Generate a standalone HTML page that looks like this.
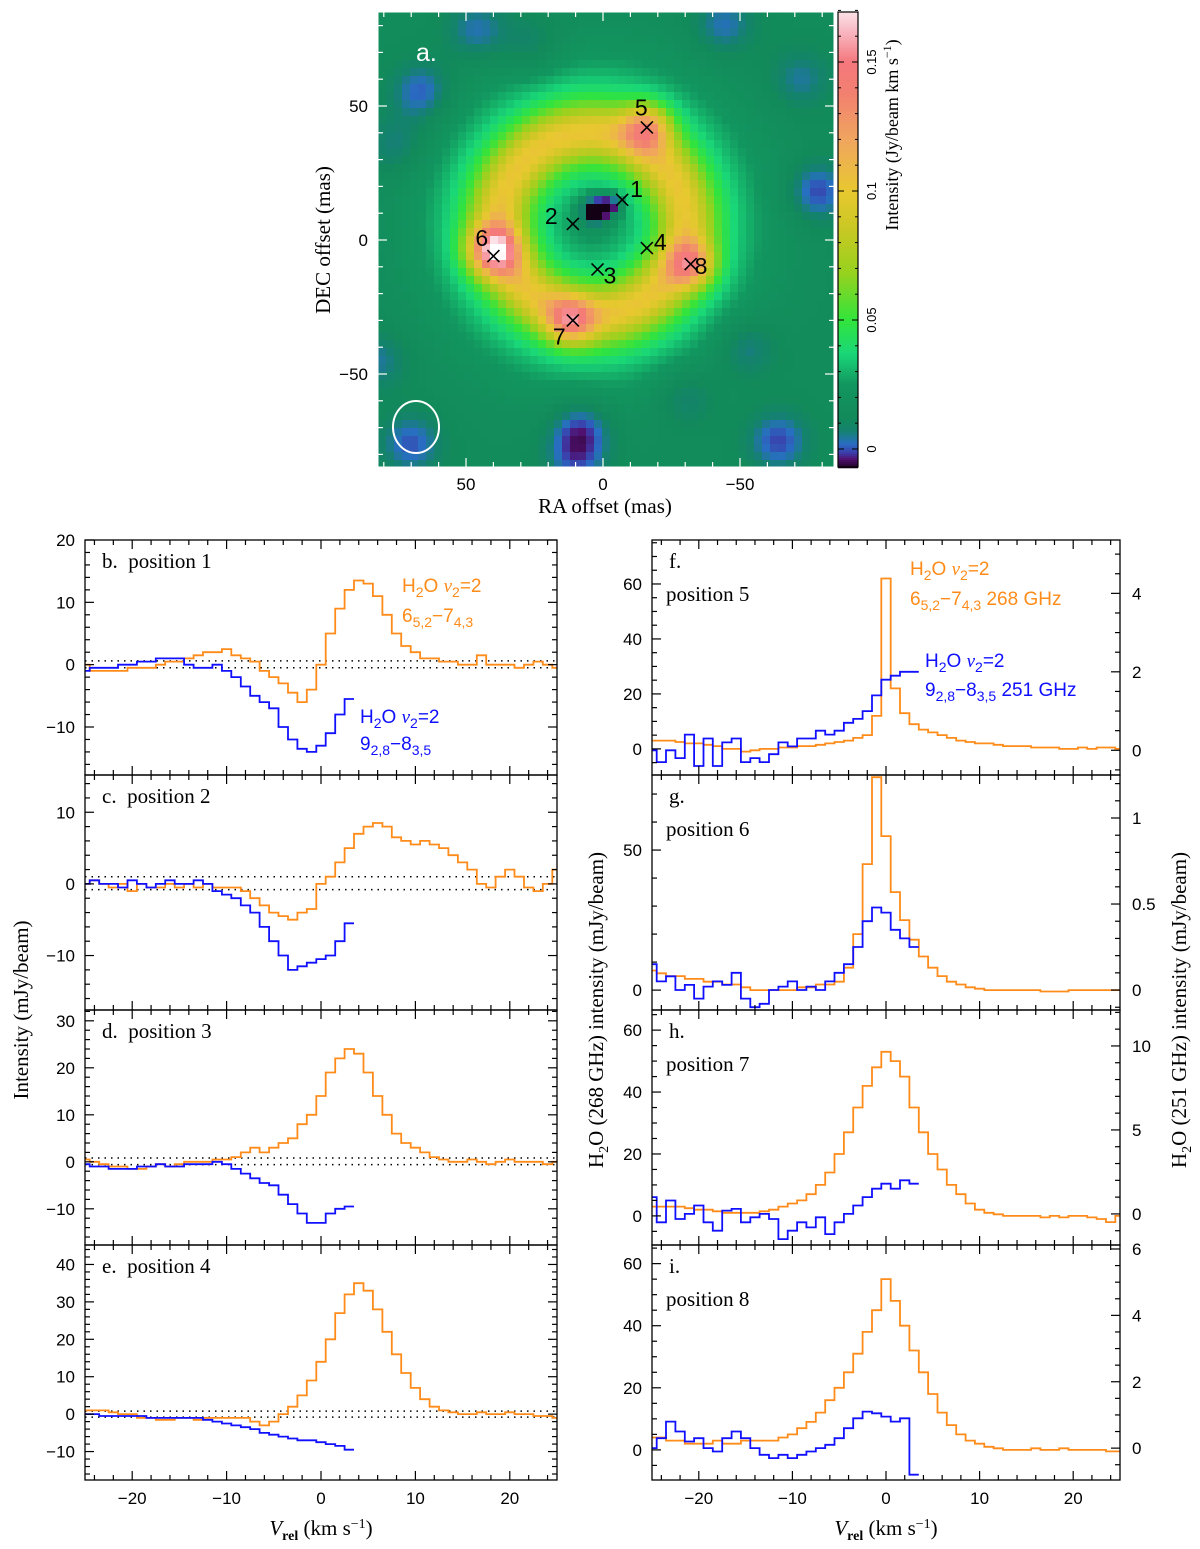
<!DOCTYPE html>
<html><head><meta charset="utf-8"><style>
html,body{margin:0;padding:0;background:#fff}
svg{display:block}
.tk{font-family:"Liberation Sans",sans-serif;fill:#000}
.ti{font-family:"Liberation Serif",serif;fill:#000}
.an{font-family:"Liberation Sans",sans-serif}
</style></head><body>
<svg id="fig" xmlns="http://www.w3.org/2000/svg" width="1200" height="1549" viewBox="0 0 1200 1549">
<g id="img"></g>
<g id="cbar"></g>
<g id="panels"></g>
<g id="texts" font-size="21">
<text class="ti" x="330" y="240" text-anchor="middle" transform="rotate(-90 330 240)">DEC offset (mas)</text>
<text class="ti" x="605" y="513" text-anchor="middle">RA offset (mas)</text>
<text class="ti" x="898" y="135" text-anchor="middle" font-size="18" transform="rotate(-90 898 135)">Intensity (Jy/beam km s<tspan dy="-7" font-size="12">−1</tspan><tspan dy="7">)</tspan></text>
<text class="ti" x="28" y="1010" text-anchor="middle" transform="rotate(-90 28 1010)">Intensity (mJy/beam)</text>
<text class="ti" x="603" y="1010" text-anchor="middle" transform="rotate(-90 603 1010)">H<tspan dy="5" font-size="14">2</tspan><tspan dy="-5">O (268 GHz) intensity (mJy/beam)</tspan></text>
<text class="ti" x="1186" y="1010" text-anchor="middle" transform="rotate(-90 1186 1010)">H<tspan dy="5" font-size="14">2</tspan><tspan dy="-5">O (251 GHz) intensity (mJy/beam)</tspan></text>
<text class="ti" x="321" y="1535" text-anchor="middle"><tspan font-style="italic">V</tspan><tspan dy="5" font-size="14" font-weight="bold">rel</tspan><tspan dy="-5"> (km s</tspan><tspan dy="-7" font-size="14">−1</tspan><tspan dy="7">)</tspan></text>
<text class="ti" x="886" y="1535" text-anchor="middle"><tspan font-style="italic">V</tspan><tspan dy="5" font-size="14" font-weight="bold">rel</tspan><tspan dy="-5"> (km s</tspan><tspan dy="-7" font-size="14">−1</tspan><tspan dy="7">)</tspan></text>
<g font-size="19">
<text class="an" x="402" y="592" fill="#ff8c1a">H<tspan dy="5" font-size="14">2</tspan><tspan dy="-5">O </tspan><tspan font-style="italic" font-family="Liberation Serif">v</tspan><tspan dy="5" font-size="14">2</tspan><tspan dy="-5">=2</tspan></text>
<text class="an" x="402" y="622" fill="#ff8c1a">6<tspan dy="5" font-size="14">5,2</tspan><tspan dy="-5">−7</tspan><tspan dy="5" font-size="14">4,3</tspan></text>
<text class="an" x="360" y="723" fill="#1010ff">H<tspan dy="5" font-size="14">2</tspan><tspan dy="-5">O </tspan><tspan font-style="italic" font-family="Liberation Serif">v</tspan><tspan dy="5" font-size="14">2</tspan><tspan dy="-5">=2</tspan></text>
<text class="an" x="360" y="750" fill="#1010ff">9<tspan dy="5" font-size="14">2,8</tspan><tspan dy="-5">−8</tspan><tspan dy="5" font-size="14">3,5</tspan></text>
<text class="an" x="910" y="575" fill="#ff8c1a">H<tspan dy="5" font-size="14">2</tspan><tspan dy="-5">O </tspan><tspan font-style="italic" font-family="Liberation Serif">v</tspan><tspan dy="5" font-size="14">2</tspan><tspan dy="-5">=2</tspan></text>
<text class="an" x="910" y="605" fill="#ff8c1a">6<tspan dy="5" font-size="14">5,2</tspan><tspan dy="-5">−7</tspan><tspan dy="5" font-size="14">4,3</tspan><tspan dy="-5"> 268 GHz</tspan></text>
<text class="an" x="925" y="667" fill="#1010ff">H<tspan dy="5" font-size="14">2</tspan><tspan dy="-5">O </tspan><tspan font-style="italic" font-family="Liberation Serif">v</tspan><tspan dy="5" font-size="14">2</tspan><tspan dy="-5">=2</tspan></text>
<text class="an" x="925" y="696" fill="#1010ff">9<tspan dy="5" font-size="14">2,8</tspan><tspan dy="-5">−8</tspan><tspan dy="5" font-size="14">3,5</tspan><tspan dy="-5"> 251 GHz</tspan></text>
</g>
</g>
</svg>
<script>
// ---------- spectra data (velocity channels from -25 to 25, 1 km/s) ----------
const vStart = -25;
const vStep = 1;
const bOrange = [0,-1,-1,-1,-1,-0.5,-0.5,-0.5,0,0.5,0.5,1,1.5,2,2,2.5,1.5,1,0.5,-1,-2,-3,-4.5,-6,-4,0,5,9,12,13.5,13,11,8,5,3,2,1,1,0.5,0.5,0,0,1.5,0,0,0,-0.5,0,0.5,0,-0.5];
const bBlue = [-1,-0.5,-0.5,-0.5,0,0,0.5,0.5,1,1,1,0,-0.5,-0.5,0,-1,-2,-3.5,-5,-6,-7,-10,-12,-13.5,-14,-13,-11,-8,-5.5];
const cOrange = [0,0.5,0,-0.5,0,-1,0,-0.5,-0.5,0,-0.5,0,-0.5,0,-0.5,-0.5,-0.5,-1,-2,-3,-4,-4.5,-5,-4,-3.5,0,1,3,5,7,8,8.5,8,6.5,6,5.5,6,5.5,5,4,3,2,0,-0.5,1,2,1,-0.5,-1,0,2];
const cBlue = [0,0.5,0,0,-0.5,0.5,0,-0.5,0,0.5,0,0,0.5,0,-1,-1.5,-2,-3,-4,-6,-8,-10,-12,-11.5,-11,-10.5,-10,-8,-5.5];
const dOrange = [0.5,0,-0.5,-1,-1,-1.5,-1.5,-1,-0.5,-1,-0.5,0,0,0,0.5,0.5,1,2,3,2,3,4,5,8,10,14,19,22,24,23,19,14,10,6,4,3,2,1,0.5,0,0,0.5,0,-0.5,0,0.5,0,0,0,-0.5,0];
const dBlue = [-0.5,-1,-1,-1.5,-1.5,-1.5,-1,-1,-0.5,-1,-1,-0.5,-0.5,-0.5,0,-0.5,-1.5,-2.5,-3.5,-4.5,-5,-7,-9,-11,-13,-13,-11,-10,-9.5];
const eOrange = [1,1,1,0.5,0,0,-1,-1,-1.5,-1.5,-1,-1,-1.5,-1,-1,-1,-1,-1,-2,-3,-2,0,2,5,9,14,20,27,32,35,33,28,22,16,11,7,4,2,1,0.5,0,0,0.5,0,0,0.5,0,0,-0.5,-0.5,-1];
const eBlue = [0,0,-0.5,-0.5,-0.5,-0.5,-0.5,-1,-1,-1,-1,-1,-1,-1.5,-2,-2.5,-3,-3.5,-4,-5,-5.5,-6,-6.5,-7,-7,-7.5,-8,-8.5,-9.5];
const fOrange = [3,3,3,2.5,2,2,1.5,1,0,0,-1,-0.5,0,0,0.5,0.5,1,1,1.5,2,2.5,3,4,5,12,62,22,13,9,7,6,5,4,3,2.5,2,2,1.5,1,1,1,0.5,0.5,0.5,0,0,0.5,0,0.5,0.5,0];
const fBlue = [0,-0.3,0,-0.2,0.4,-0.4,0.3,-0.4,0.2,0.3,-0.3,-0.2,-0.3,-0.1,0.2,0.1,0.3,0.3,0.5,0.4,0.5,0.7,0.8,1.0,1.4,1.8,1.9,2.0,2.0];
const gOrange = [7,6,5,5,4,4,3,3,2,2,1,0,0,0,0,0,1,1,2,2,3,8,20,45,76,55,35,25,18,12,8,5,3,2,1,0.5,0,0,0,0,0,0,-0.5,-0.5,-0.5,0,0,0,0,0,0];
const gBlue = [0.15,0.05,0.08,0,0.03,-0.05,0.02,0.05,0.03,0.1,-0.05,-0.1,-0.08,0,0.02,0.05,0,0.02,0,0.05,0.1,0.15,0.25,0.4,0.48,0.45,0.35,0.3,0.25];
const hOrange = [3,3,3,3,2.5,2,2,1.5,1,1,1,1,1.5,2,3,4,5,7,10,14,20,27,35,42,48,53,50,45,35,27,20,15,10,7,4,2,1,0.5,0,0,0,0,-0.5,0,-0.5,0,0,-0.5,-1,-2,0];
const hBlue = [1,-0.5,0.8,-0.3,0,0.5,-0.5,-1,0.2,0.3,-0.5,-0.2,0,-0.3,-1.5,-1,-0.5,-0.8,-0.2,-1.2,-0.5,0,0.5,1,1.5,1.8,1.5,2,1.8];
const iOrange = [4,4,3,3,2,2,2,3,2,2,3,3,3,3,4,5,7,9,12,16,20,25,31,38,45,55,48,40,32,25,18,12,8,5,3,2,1,0.5,0,0,0,0.5,0,0,0.5,0,0,0,0,-0.5,-0.5];
const iBlue = [0,0.3,0.8,0.5,0.2,0.3,0,-0.1,0.3,0.5,0.3,0,-0.2,-0.3,-0.2,-0.3,-0.2,-0.1,0,0.1,0.3,0.6,0.9,1.1,1.05,0.95,0.8,0.9,-0.8];
const xTickLabels = [-20,-10,0,10,20];

// ---------- map data: emission components (RA mas, DEC mas, peak Jy/beam km/s, sigma mas) ----------
const ringCenter = [4, 6];
const ringRadius = 34;
const ringWidth = 7.5;
const ringPeak = 0.058;
const mapBackground = 0.014;
const blobRA = [40, -16, 12, -32, 3, -3];
const blobDEC = [-4, 42, -30, -9, 11, 13];
const blobPeak = [0.085, 0.062, 0.06, 0.062, -0.045, -0.03];
const blobSigma = [6.5, 6, 6, 6, 3.5, 3];
const noiseRA = [66, 46, 8, -78, -64, -52, 10, -72, 70, 75, -44, 26, -30, 82, -20];
const noiseDEC = [55, 78, -70, 18, -75, -40, -82, 60, -76, 35, 80, 72, -58, -45, 2];
const noisePeak = [-0.015, -0.012, -0.016, -0.016, -0.015, -0.012, -0.012, -0.01, -0.014, -0.01, -0.012, -0.01, -0.01, -0.01, -0.004];
const markerIds = ['1','2','3','4','5','6','7','8'];
const markerRA = [-7, 11, 2, -16, -16, 40, 11, -32];
const markerDEC = [15, 6, -11, -3, 42, -6, -30, -9];
const cbarTicks = [0, 0.05, 0.1, 0.15];
const cbarTickLabels = ['0','0.05','0.1','0.15'];

const NS = 'http://www.w3.org/2000/svg';
function mk(tag, attrs, parent){const e=document.createElementNS(NS,tag);for(const k in attrs)e.setAttribute(k,attrs[k]);parent.appendChild(e);return e;}

const cmStops=[[-0.008,[20,0,20]],[-0.004,[80,16,110]],[-0.0015,[60,60,170]],[0.002,[40,110,195]],[0.007,[20,130,110]],[0.012,[18,138,90]],[0.025,[18,150,95]],[0.037,[25,215,120]],[0.05,[50,228,60]],[0.068,[150,210,30]],[0.085,[200,200,35]],[0.1,[232,200,48]],[0.12,[240,165,95]],[0.138,[242,128,112]],[0.15,[245,120,125]],[0.162,[248,185,195]],[0.175,[255,255,255]]];
function cmap(v){
  if(v<=cmStops[0][0])return 'rgb('+cmStops[0][1].join(',')+')';
  for(let i=1;i<cmStops.length;i++){if(v<=cmStops[i][0]){const a=cmStops[i-1],b=cmStops[i];const t=(v-a[0])/(b[0]-a[0]);return 'rgb('+[0,1,2].map(j=>Math.round(a[1][j]+t*(b[1][j]-a[1][j]))).join(',')+')';}}
  return 'rgb(255,255,255)';
}
const IX0=378,IX1=834,IY0=12,IY1=467;
const raToX = ra => 603 - ra*2.74;
const decToY = dec => 240 - dec*2.68;
function field(ra,dec){
  let v=mapBackground;
  const dr=Math.hypot(ra-ringCenter[0],dec-ringCenter[1]);
  v+=ringPeak*Math.exp(-Math.pow(dr-ringRadius,2)/(2*ringWidth*ringWidth));
  v+=0.03*Math.exp(-Math.pow(dr-ringRadius,2)/(2*20*20));
  for(let i=0;i<blobRA.length;i++){const d2=Math.pow(ra-blobRA[i],2)+Math.pow(dec-blobDEC[i],2);v+=blobPeak[i]*Math.exp(-d2/(2*blobSigma[i]*blobSigma[i]));}
  for(let i=0;i<noiseRA.length;i++){const d2=Math.pow(ra-noiseRA[i],2)+Math.pow(dec-noiseDEC[i],2);v+=noisePeak[i]*Math.exp(-d2/(2*64));}
  return v;
}
const img=document.getElementById('img');
const cell=8;
for(let y=IY0;y<IY1;y+=cell){for(let x=IX0;x<IX1;x+=cell){
  const ra=(603-(x+cell/2))/2.74, dec=(240-(y+cell/2))/2.68;
  const r=mk('rect',{x:x,y:y,width:Math.min(cell,IX1-x)+0.3,height:Math.min(cell,IY1-y)+0.3,fill:cmap(field(ra,dec))},img);
  
  
}}
const ifr=mk('rect',{x:IX0,y:IY0,width:IX1-IX0,height:IY1-IY0,fill:'none',stroke:'#fff','stroke-width':1},img);


for(let m=-80;m<=80;m+=10){
  const x=raToX(m),y=decToY(m);const L=(m%50===0)?9:5;
  if(x>IX0&&x<IX1){mk('line',{x1:x,y1:IY1,x2:x,y2:IY1-L,stroke:'#fff','stroke-width':1.2},img);mk('line',{x1:x,y1:IY0,x2:x,y2:IY0+L,stroke:'#fff','stroke-width':1.2},img);}
  if(y>IY0&&y<IY1){mk('line',{x1:IX0,y1:y,x2:IX0+L,y2:y,stroke:'#fff','stroke-width':1.2},img);mk('line',{x1:IX1,y1:y,x2:IX1-L,y2:y,stroke:'#fff','stroke-width':1.2},img);}
}
[50,0,-50].forEach(m=>{
  const t=mk('text',{x:raToX(m),y:490,'text-anchor':'middle',class:'tk','font-size':17},img);t.textContent=(m<0?'−'+(-m):m);
  
  
  const u=mk('text',{x:368,y:decToY(m)+6,'text-anchor':'end',class:'tk','font-size':17},img);u.textContent=(m<0?'−'+(-m):m);
  
  
});
const al=mk('text',{x:416,y:61,fill:'#fff',class:'tk','font-size':'25',style:'fill:#fff'},img);al.textContent='a.';


const beam=mk('ellipse',{cx:416,cy:427,rx:23,ry:26,fill:'none',stroke:'#fff','stroke-width':2},img);


const labOff=[[8,-3],[-28,0],[6,14],[7,2],[-12,-12],[-18,-10],[-20,24],[4,10]];
for(let i=0;i<markerIds.length;i++){
  const x=raToX(markerRA[i]),y=decToY(markerDEC[i]);
  const g=mk('g',{},img);
  
  
  mk('line',{x1:x-6,y1:y-6,x2:x+6,y2:y+6,stroke:'#000','stroke-width':1.6},g);
  mk('line',{x1:x-6,y1:y+6,x2:x+6,y2:y-6,stroke:'#000','stroke-width':1.6},g);
  const t=mk('text',{x:x+labOff[i][0],y:y+labOff[i][1],class:'tk','font-size':'23'},g);t.textContent=markerIds[i];
}
const cb=document.getElementById('cbar');
const CX0=838,CX1=858;
const vToCY = v => 449 - v*2580;
for(let y=IY0;y<IY1;y+=2){const v=(449-(y+1))/2580;const r=mk('rect',{x:CX0,y:y,width:CX1-CX0,height:2.3,fill:cmap(v)},cb);
  
  }
mk('rect',{x:CX0,y:IY0,width:CX1-CX0,height:IY1-IY0,fill:'none',stroke:'#000','stroke-width':1.2},cb);
for(let v=0;v<=0.17;v+=0.01){const y=vToCY(v);const L=(Math.round(v*100)%5===0)?6:3;mk('line',{x1:CX0,y1:y,x2:CX0+L,y2:y,stroke:'#000'},cb);mk('line',{x1:CX1,y1:y,x2:CX1-L,y2:y,stroke:'#000'},cb);}
for(let i=0;i<cbarTicks.length;i++){const y=vToCY(cbarTicks[i]);const t=mk('text',{x:876,y:y,'text-anchor':'middle',class:'tk','font-size':'13',transform:'rotate(-90 876 '+y+')'},cb);t.textContent=cbarTickLabels[i];
  
  }

const P=document.getElementById('panels');
function fmt(v){return v<0?'−'+(-v):String(v);}
function panel(c){
  const g=mk('g',{},P);
  
  
  const sx=v=>c.x0+(v+25)/50*(c.x1-c.x0);
  const sy=(y,mn,mx)=>c.y1-(y-mn)/(mx-mn)*(c.y1-c.y0);
  const cid='clip-'+c.name;
  const cp=mk('clipPath',{id:cid},g);mk('rect',{x:c.x0,y:c.y0,width:c.x1-c.x0,height:c.y1-c.y0},cp);
  (c.dots||[]).forEach(d=>{const y=sy(d,c.ymin,c.ymax);const l=mk('line',{x1:c.x0,y1:y,x2:c.x1,y2:y,stroke:'#000','stroke-width':1.5,'stroke-dasharray':'1.5 5'},g);
    
    });
  c.series.forEach(s=>{
    const mn=s.right?c.rmin:c.ymin, mx=s.right?c.rmax:c.ymax;
    let d='';
    s.vals.forEach((v,i)=>{const vc=vStart+i*vStep;const xa=sx(vc-vStep/2),xb=sx(vc+vStep/2),y=sy(v,mn,mx);
      d+=(i===0?'M'+xa.toFixed(1)+' '+y.toFixed(1):'V'+y.toFixed(1))+'H'+xb.toFixed(1);});
    const p=mk('path',{d:d,fill:'none',stroke:s.color,'stroke-width':1.8,'clip-path':'url(#'+cid+')'},g);
    
    
  });
  mk('rect',{x:c.x0,y:c.y0,width:c.x1-c.x0,height:c.y1-c.y0,fill:'none',stroke:'#000','stroke-width':1.3},g);
  for(let v=-24;v<=24;v+=2){const x=sx(v);const L=(v%10===0)?9:5;
    mk('line',{x1:x,y1:c.y1,x2:x,y2:c.y1-L,stroke:'#000','stroke-width':1.2},g);
    mk('line',{x1:x,y1:c.y0,x2:x,y2:c.y0+L,stroke:'#000','stroke-width':1.2},g);}
  if(c.xlabels){xTickLabels.forEach(v=>{const t=mk('text',{x:sx(v),y:c.y1+24,'text-anchor':'middle',class:'tk','font-size':17},g);t.textContent=fmt(v);
    
    });}
  const yt=(mn,mx,maj,mnr,side)=>{
    const xe=side==='L'?c.x0:c.x1, dir=side==='L'?1:-1;
    for(let v=Math.ceil(mn/mnr)*mnr;v<=mx+1e-9;v+=mnr){const y=sy(v,mn,mx);const isM=Math.abs(v/maj-Math.round(v/maj))<1e-6;const L=isM?9:5;
      mk('line',{x1:xe,y1:y,x2:xe+dir*L,y2:y,stroke:'#000','stroke-width':1.2},g);}
  };
  yt(c.ymin,c.ymax,c.major,c.minor,'L');
  if(c.rmin!==undefined) yt(c.rmin,c.rmax,c.rmajor,c.rminor,'R'); else yt(c.ymin,c.ymax,c.major,c.minor,'R');
  c.labels.forEach(v=>{const t=mk('text',{x:c.x0-10,y:sy(v,c.ymin,c.ymax)+6,'text-anchor':'end',class:'tk','font-size':17},g);t.textContent=fmt(v);
    
    });
  (c.rlabels||[]).forEach(v=>{const t=mk('text',{x:c.x1+12,y:sy(v,c.rmin,c.rmax)+6,'text-anchor':'start',class:'tk','font-size':17},g);t.textContent=fmt(v);
    
    });
  const t1=mk('text',{x:c.x0+17,y:c.y0+28,class:'ti','font-size':'21'},g);t1.textContent=c.title1;
  
  
  if(c.title2){const t2=mk('text',{x:c.x0+14,y:c.y0+61,class:'ti','font-size':'21'},g);t2.textContent=c.title2;
    
    }
}
const OR='#ff8c1a', BL='#1010ff';
const L0=85,L1=557,R0=652,R1=1120;
const SP='\u00a0\u00a0';
panel({name:'panel-b',x0:L0,x1:L1,y0:540,y1:775,ymin:-17.7,ymax:20,major:10,minor:2,labels:[20,10,0,-10],dots:[0.6,-0.5],title1:'b.'+SP+'position 1',series:[{name:'b-orange-268',vals:bOrange,color:OR},{name:'b-blue-251',vals:bBlue,color:BL}]});
panel({name:'panel-c',x0:L0,x1:L1,y0:775,y1:1010,ymin:-17.6,ymax:15.2,major:10,minor:2,labels:[10,0,-10],dots:[1,-0.8],title1:'c.'+SP+'position 2',series:[{name:'c-orange-268',vals:cOrange,color:OR},{name:'c-blue-251',vals:cBlue,color:BL}]});
panel({name:'panel-d',x0:L0,x1:L1,y0:1010,y1:1245,ymin:-17.7,ymax:32.3,major:10,minor:2,labels:[30,20,10,0,-10],dots:[0.8,-0.6],title1:'d.'+SP+'position 3',series:[{name:'d-orange-268',vals:dOrange,color:OR},{name:'d-blue-251',vals:dBlue,color:BL}]});
panel({name:'panel-e',x0:L0,x1:L1,y0:1245,y1:1480,ymin:-17.6,ymax:45.2,major:10,minor:2,labels:[40,30,20,10,0,-10],dots:[0.8,-0.8],xlabels:true,title1:'e.'+SP+'position 4',series:[{name:'e-orange-268',vals:eOrange,color:OR},{name:'e-blue-251',vals:eBlue,color:BL}]});
panel({name:'panel-f',x0:R0,x1:R1,y0:540,y1:775,ymin:-9.5,ymax:76,major:20,minor:5,labels:[60,40,20,0],rmin:-0.63,rmax:5.36,rmajor:2,rminor:0.5,rlabels:[4,2,0],title1:'f.',title2:'position 5',series:[{name:'f-orange-268',vals:fOrange,color:OR},{name:'f-blue-251',vals:fBlue,color:BL,right:true}]});
panel({name:'panel-g',x0:R0,x1:R1,y0:775,y1:1010,ymin:-7.1,ymax:76.8,major:50,minor:10,labels:[50,0],rmin:-0.116,rmax:1.25,rmajor:0.5,rminor:0.1,rlabels:[1,0.5,0],title1:'g.',title2:'position 6',series:[{name:'g-orange-268',vals:gOrange,color:OR},{name:'g-blue-251',vals:gBlue,color:BL,right:true}]});
panel({name:'panel-h',x0:R0,x1:R1,y0:1010,y1:1245,ymin:-9.4,ymax:66.5,major:20,minor:5,labels:[60,40,20,0],rmin:-1.85,rmax:12.14,rmajor:5,rminor:1,rlabels:[10,5,0],title1:'h.',title2:'position 7',series:[{name:'h-orange-268',vals:hOrange,color:OR},{name:'h-blue-251',vals:hBlue,color:BL,right:true}]});
panel({name:'panel-i',x0:R0,x1:R1,y0:1245,y1:1480,ymin:-9.7,ymax:66,major:20,minor:5,labels:[60,40,20,0],rmin:-0.96,rmax:6.12,rmajor:2,rminor:0.5,rlabels:[6,4,2,0],xlabels:true,title1:'i.',title2:'position 8',series:[{name:'i-orange-268',vals:iOrange,color:OR},{name:'i-blue-251',vals:iBlue,color:BL,right:true}]});
</script>
</body></html>
